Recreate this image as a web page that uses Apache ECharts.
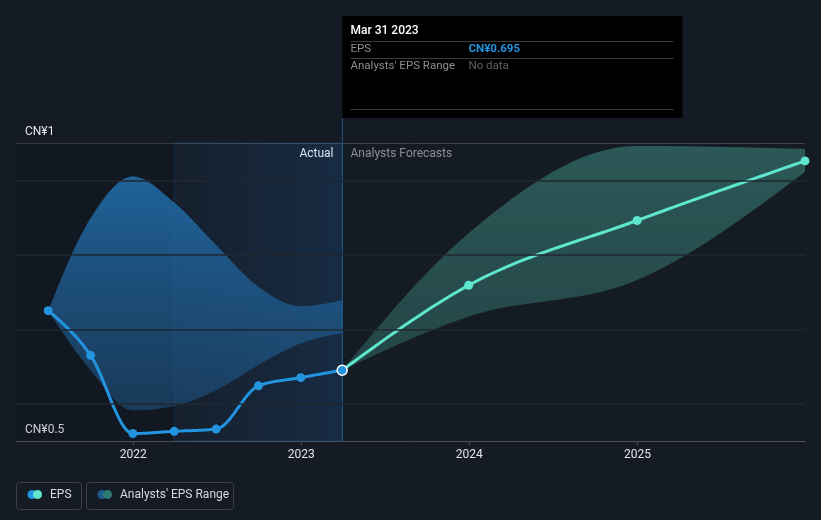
<!DOCTYPE html>
<html>
<head>
<meta charset="utf-8">
<script src="https://cdn.jsdelivr.net/npm/echarts@6/dist/echarts.min.js"></script>
<style>
html,body{margin:0;padding:0;background:#151b25;}
#c{width:821px;height:520px;}
</style>
</head>
<body>
<div id="c"></div>
<script>
// ---- data ----
const histDates = ['2021-06-30','2021-09-30','2021-12-31','2022-03-31','2022-06-30','2022-09-30','2022-12-31','2023-03-31'];
const epsActual = [0.775, 0.715, 0.610, 0.613, 0.616, 0.674, 0.685, 0.695];
const histRangeLow = [0.775, 0.695, 0.641, 0.647, 0.668, 0.702, 0.731, 0.745];
const histRangeHigh = [0.775, 0.899, 0.955, 0.920, 0.863, 0.807, 0.781, 0.789];

const fcDates = ['2023-03-31','2023-12-31','2024-12-31','2025-12-31'];
const epsForecast = [0.695, 0.809, 0.896, 0.976];
const fcRangeLow = [0.695, 0.767, 0.816, 0.961];
const fcRangeHigh = [0.695, 0.879, 0.996, 0.992];

const yTickValues = [0.6, 1.0];
const yTickLabels = ['CN¥0.5', 'CN¥1'];
const gridLineValues = [0.65, 0.75, 0.85, 0.95];

const nowDate = '2023-03-31';
const pastYearStart = '2022-03-31';
const xMin = '2021-04-21';
const xMax = '2025-12-31';

// ---- helpers ----
const FONT = 'Roboto, "Open Sans", sans-serif';
const ts = d => +echarts.time.parse(d);
const pair = (dates, vals) => dates.map((d,i)=>[d, vals[i]]);

// monotone-x cubic interpolation in pixel space, sampled into points
function monoCurve(pts, samples) {
  samples = samples || 24;
  const n = pts.length;
  if (n < 2) return pts.slice();
  const sign = v => v < 0 ? -1 : 1;
  const m = new Array(n).fill(0);
  const sec = [];
  for (let i = 0; i < n-1; i++) {
    const h = pts[i+1][0]-pts[i][0];
    sec.push(h ? (pts[i+1][1]-pts[i][1])/h : 0);
  }
  for (let i = 1; i < n-1; i++) {
    const h0 = pts[i][0]-pts[i-1][0], h1 = pts[i+1][0]-pts[i][0];
    const s0 = sec[i-1], s1 = sec[i];
    const p = (s0*h1 + s1*h0)/(h0+h1);
    m[i] = (sign(s0)+sign(s1)) * Math.min(Math.abs(s0), Math.abs(s1), 0.5*Math.abs(p)) || 0;
  }
  if (n === 2) { m[0] = sec[0]; m[1] = sec[0]; }
  else {
    m[0] = (3*sec[0] - m[1])/2;
    m[n-1] = (3*sec[n-2] - m[n-2])/2;
  }
  const out = [pts[0]];
  for (let i = 0; i < n-1; i++) {
    const [x0,y0] = pts[i], [x1,y1] = pts[i+1];
    const dx = (x1-x0)/3;
    const c1 = [x0+dx, y0+dx*m[i]], c2 = [x1-dx, y1-dx*m[i+1]];
    for (let k = 1; k <= samples; k++) {
      const t = k/samples, u = 1-t;
      out.push([
        u*u*u*x0 + 3*u*u*t*c1[0] + 3*u*t*t*c2[0] + t*t*t*x1,
        u*u*u*y0 + 3*u*u*t*c1[1] + 3*u*t*t*c2[1] + t*t*t*y1
      ]);
    }
  }
  return out;
}

function bandSeries(name, dates, lo, hi, fill, z) {
  return {
    name, type:'custom', coordinateSystem:'cartesian2d', silent:true, z, clip:true,
    data: pair(dates, hi),
    renderItem: (params, api) => {
      if (params.dataIndex !== 0) return;
      const up = monoCurve(dates.map((d,i)=>api.coord([ts(d), hi[i]])));
      const dn = monoCurve(dates.map((d,i)=>api.coord([ts(d), lo[i]])));
      return {type:'polygon', shape:{points: up.concat(dn.reverse())}, style:{fill}};
    }
  };
}
function curveSeries(name, dates, vals, color, z) {
  return {
    name, type:'custom', coordinateSystem:'cartesian2d', silent:true, z, clip:true,
    data: pair(dates, vals),
    renderItem: (params, api) => {
      if (params.dataIndex !== 0) return;
      const pts = monoCurve(dates.map((d,i)=>api.coord([ts(d), vals[i]])));
      return {type:'polyline', shape:{points: pts}, style:{stroke:color, lineWidth:3, fill:null, lineJoin:'round', lineCap:'round'}};
    }
  };
}

// ---- chart ----
const chart = echarts.init(document.getElementById('c'), null, {renderer:'canvas', width:821, height:520});

const option = {
  backgroundColor: '#151b25',
  animation: false,
  grid: {left:16, right:16, top:143, bottom:79},
  xAxis: {
    type:'time', min:xMin, max:xMax, splitNumber:4,
    axisLine:{show:true, lineStyle:{color:'#4b505a', width:1}},
    axisTick:{show:true, length:4, lineStyle:{color:'#4b505a'}},
    splitLine:{show:false},
    axisLabel:{color:'#e2e4e8', fontSize:12, fontFamily:FONT, margin:8,
      formatter:(v)=>{const d=new Date(v); return (d.getMonth()===0 && d.getDate()===1) ? String(d.getFullYear()) : '';}}
  },
  yAxis: {
    type:'value', min:yTickValues[0], max:yTickValues[1], interval:yTickValues[1]-yTickValues[0],
    axisLine:{show:false}, axisTick:{show:false},
    splitLine:{show:true, lineStyle:{color:['#4b505a','#3c414b'], width:1}},
    axisLabel:{inside:true, margin:9, color:'#e2e4e8', fontSize:12, fontFamily:FONT,
      verticalAlign:'bottom', padding:[0,0,5,0],
      formatter:(v)=>{const i=yTickValues.findIndex(t=>Math.abs(t-v)<1e-9); return i>=0?yTickLabels[i]:'';}}
  },
  series: [
    {
      name:'bg', type:'line', data:[], silent:true, z:0,
      markArea:{silent:true, data:[
        [{xAxis:xMin, itemStyle:{color:'rgba(0,0,0,0.10)'}},{xAxis:pastYearStart}],
        [{xAxis:pastYearStart, itemStyle:{color:new echarts.graphic.LinearGradient(0,0,1,0,[{offset:0,color:'rgba(30,100,170,0.06)'},{offset:1,color:'rgba(30,110,190,0.2)'}]), borderColor:'rgba(40,100,150,0.3)', borderWidth:1}},{xAxis:nowDate}]
      ]},
      markLine:{silent:true, symbol:'none', label:{show:false},
        lineStyle:{color:'#212731', width:1.5, type:'solid', opacity:1},
        emphasis:{disabled:true},
        data: gridLineValues.map(v=>({yAxis:v}))}
    },
    bandSeries('histRange', histDates, histRangeLow, histRangeHigh,
      new echarts.graphic.LinearGradient(0,0,0,1,[{offset:0,color:'rgba(33,112,175,0.85)'},{offset:1,color:'rgba(30,80,125,0.6)'}]), 2),
    bandSeries('fcRange', fcDates, fcRangeLow, fcRangeHigh,
      new echarts.graphic.LinearGradient(0,0,0,1,[{offset:0,color:'rgba(62,140,128,0.55)'},{offset:1,color:'rgba(55,120,112,0.45)'}]), 2),
    curveSeries('EPS forecast line', fcDates, epsForecast, '#5ee6cf', 3),
    curveSeries('EPS line', histDates, epsActual, '#2394df', 4),
    {name:'EPS forecast', type:'line', data:pair(fcDates, epsForecast).slice(1),
      symbol:'circle', symbolSize:9, showSymbol:true, z:5, silent:true,
      lineStyle:{opacity:0, width:0}, itemStyle:{color:'#5ee6cf'}},
    {name:'EPS', type:'line', data:pair(histDates, epsActual).map((p,i,a)=> i===a.length-1 ? {value:p, symbolSize:10, itemStyle:{color:'#2394df', borderColor:'#ffffff', borderWidth:1.5}} : p),
      symbol:'circle', symbolSize:9, showSymbol:true, z:6, silent:true,
      lineStyle:{opacity:0, width:0}, itemStyle:{color:'#2394df'}}
  ]
};
chart.setOption(option);

// overlay graphics (positions from the chart's own scales)
const pNow = chart.convertToPixel({gridIndex:0}, [ts(nowDate), yTickValues[1]]);
const pBot = chart.convertToPixel({gridIndex:0}, [ts(nowDate), yTickValues[0]]);
const xn = Math.round(pNow[0]) + 0.5;
const topY = pNow[1];
const tipL = xn, tipT = 16, tipW = 340, tipH = 102;
const T = (x,y,text,color,size,weight,align) => ({type:'text', x, y, style:{text, fill:color, font:`${weight||'normal'} ${size}px ${FONT}`, align:align||'left', verticalAlign:'middle'}, silent:true});
const L = (x1,y1,x2,y2,color,w) => ({type:'line', shape:{x1,y1,x2,y2}, style:{stroke:color, lineWidth:w||1}, silent:true});

chart.setOption({graphic:[
  L(xn, tipT+tipH, xn, pBot[1], '#1d5180', 1),
  {type:'rect', shape:{x:tipL, y:tipT, width:tipW, height:tipH}, style:{fill:'#000000'}, silent:true},
  T(tipL+8, 31, 'Mar 31 2023', '#ffffff', 12, '500'),
  L(tipL+8, 41.5, tipL+tipW-9, 41.5, '#3a3a3a'),
  T(tipL+8, 49, 'EPS', '#8b8e94', 11.5),
  T(tipL+126, 49, 'CN¥0.695', '#2394df', 11.5, 'bold'),
  L(tipL+8, 58.5, tipL+tipW-9, 58.5, '#3a3a3a'),
  T(tipL+8, 66, "Analysts' EPS Range", '#8b8e94', 11.5),
  T(tipL+126, 66, 'No data', '#5c6067', 11.5),
  L(tipL+8, 109.5, tipL+tipW-9, 109.5, '#3a3a3a'),
  T(xn-9, topY+11, 'Actual', '#ffffff', 12, 'normal', 'right'),
  T(xn+8, topY+11, 'Analysts Forecasts', '#8b8f97', 12),
  // legend
  {type:'rect', shape:{x:16.5, y:482.5, width:65, height:27, r:3}, style:{fill:'none', stroke:'#3b404b', lineWidth:1}, silent:true},
  {type:'circle', shape:{cx:32, cy:494.5, r:4.5}, style:{fill:'#2394df'}, silent:true},
  {type:'circle', shape:{cx:37.5, cy:494.5, r:4.5}, style:{fill:'#5ee6cf'}, silent:true},
  T(50, 495, 'EPS', '#d6d8dc', 12),
  {type:'rect', shape:{x:86.5, y:482.5, width:147, height:27, r:3}, style:{fill:'none', stroke:'#3b404b', lineWidth:1}, silent:true},
  {type:'circle', shape:{cx:102, cy:494.5, r:4.5}, style:{fill:'#1d5b8a'}, silent:true},
  {type:'circle', shape:{cx:107.5, cy:494.5, r:4.5}, style:{fill:'#2e7873'}, silent:true},
  T(120, 495, "Analysts' EPS Range", '#d6d8dc', 12)
]});
</script>
</body>
</html>
